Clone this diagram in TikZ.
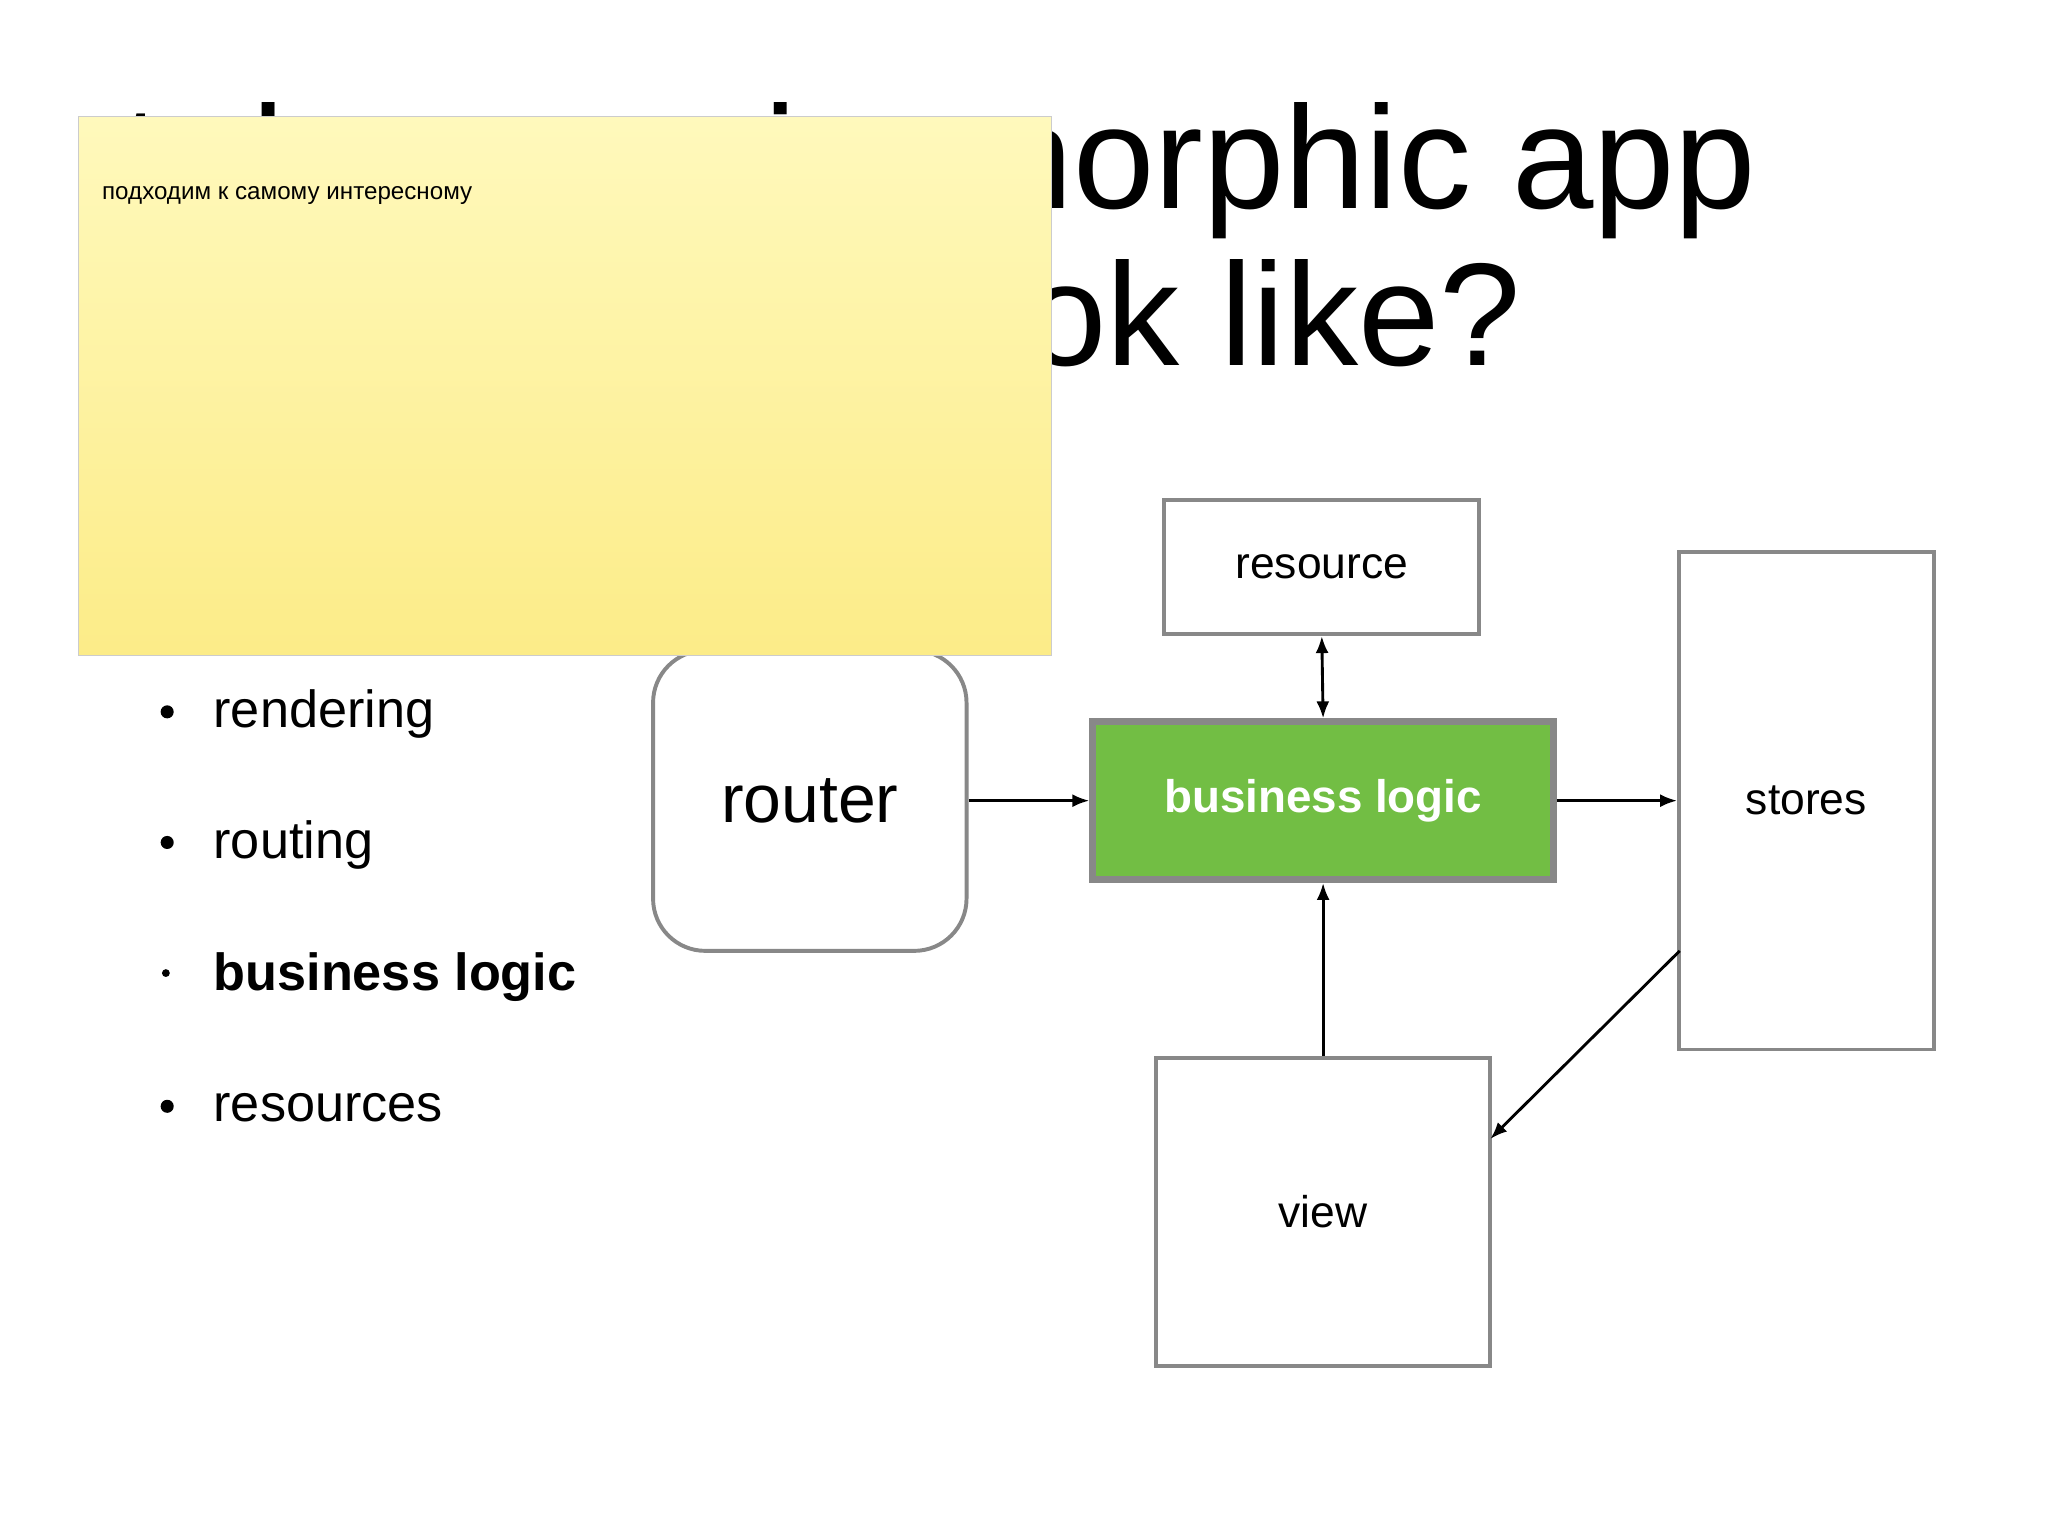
\documentclass[tikz,border=0pt]{standalone}
\usepackage{fontspec}
\setmainfont{Liberation Sans}
\usetikzlibrary{arrows.meta}
\definecolor{bord}{HTML}{888888}
\definecolor{grn}{HTML}{72BE44}
\definecolor{ytop}{HTML}{FFF9BC}
\definecolor{ybot}{HTML}{FCEC88}
\tikzset{
 box/.style={draw=bord,line width=3pt,inner sep=0pt,font=\fontsize{34}{40}\selectfont},
 arr/.style={line width=2.2pt,-{Latex[length=13pt,width=10pt]}},
 bul/.style={anchor=base west,font=\fontsize{40}{46}\selectfont}
}
\begin{document}
\begin{tikzpicture}[x=1pt,y=-1pt]
\useasboundingbox[fill=white] (0,0) rectangle (1568,1176);
% title (left part hidden by the note)
\begin{scope}
\clip (60,0) rectangle (1568,400);
\node[anchor=base east,inner sep=0,font=\fontsize{112}{120}\selectfont] (t1) at (1345,160) {What does an isomorphic app};
\node[anchor=base east,inner sep=0,font=\fontsize{112}{120}\selectfont] (t2) at (1165,280) {look like?};
\end{scope}
% bullets
\foreach \y/\t/\n in {545/rendering/b1,645/routing/b2,847/resources/b4}{
  \node[bul] (\n) at (160,\y+12) {\t};
  \fill (128,\y) circle (5);
}
\node[bul,font=\fontsize{40}{46}\selectfont\bfseries] (b3) at (160,758) {business logic};
\fill (127,745) circle (3);
% boxes
\node[box,rounded corners=40pt,minimum width=240pt,minimum height=230pt,font=\fontsize{52}{60}\selectfont] (router) at (620,613) {router};
\node[box,fill=grn,line width=5pt,minimum width=353pt,minimum height=121pt,text=white,font=\fontsize{35}{40}\selectfont\bfseries] (bl) at (1013,613) {business logic};
\node[box,minimum width=241pt,minimum height=103pt] (res) at (1012,434) {resource};
\node[box,minimum width=195pt,minimum height=381pt] (st) at (1383,613) {stores};
\node[box,minimum width=256pt,minimum height=236pt] (view) at (1013,928) {view};
\coordinate (sv) at (1286,728);
\coordinate (vs) at (1141,872);
\draw[arr] (router.east) -- (bl.west);
\draw[arr] (bl.east) -- (st.west);
\draw[arr,{Latex[length=13pt,width=10pt]}-{Latex[length=13pt,width=10pt]}] (res.south) -- (bl.north);
\draw[arr] (view.north) -- (bl.south);
\draw[arr] (sv) -- (vs);
% sticky note
\shade[top color=ytop,bottom color=ybot,draw=black!20,line width=1pt] (60,89) rectangle (805,502);
\node[anchor=base west,inner sep=0,font=\fontsize{18.5}{22}\selectfont] (note) at (78,153) {подходим к самому интересному};
\end{tikzpicture}
\end{document}
